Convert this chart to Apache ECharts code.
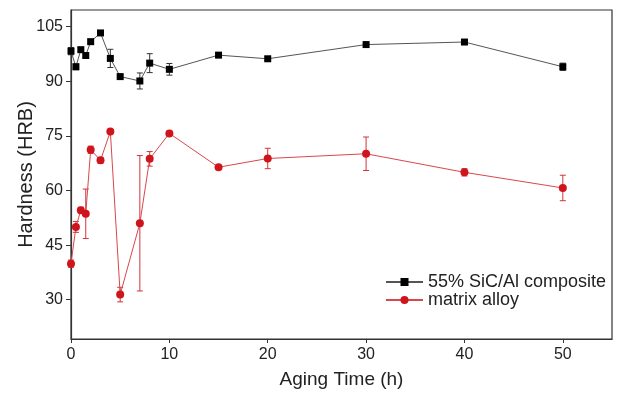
<!DOCTYPE html>
<html>
<head>
<meta charset="utf-8">
<script src="https://cdn.jsdelivr.net/npm/echarts@6/dist/echarts.min.js"></script>
<style>html,body{margin:0;padding:0;background:#fff}#c{width:620px;height:394px}</style>
</head>
<body>
<div id="c"></div>
<script>
// Aging time (h)
const agingTime = [0, 0.5, 1, 1.5, 2, 3, 4, 5, 7, 8, 10, 15, 20, 30, 40, 50];
// 55% SiC/Al composite hardness and error
const compositeHardness = [98.3, 94.0, 98.7, 97.1, 100.9, 103.3, 96.3, 91.3, 90.1, 95.0, 93.3, 97.2, 96.2, 100.1, 100.8, 94.0];
const compositeError    = [1.0, 0.8, 0.6, 0.6, 0.6, 0.6, 2.5, 0.6, 2.2, 2.6, 1.6, 0.5, 0.5, 0.6, 0.6, 1.0];
// matrix alloy hardness and error
const matrixHardness = [39.9, 50.0, 54.6, 53.6, 71.2, 68.3, 76.2, 31.4, 51.0, 68.7, 75.7, 66.4, 68.8, 70.1, 65.0, 60.7];
const matrixError    = [1.0, 1.5, 0.8, 6.8, 1.0, 0.8, 0.5, 2.0, 18.6, 2.0, 0.6, 0.5, 2.8, 4.6, 1.0, 3.5];
// tick labels
const xTicks = [0, 10, 20, 30, 40, 50];
const yTicks = [30, 45, 60, 75, 90, 105];

const seriesNames = ['55% SiC/Al composite', 'matrix alloy'];
const FONT = 'Liberation Sans, Arial, sans-serif';

function pts(ys) { return agingTime.map((x, i) => [x, ys[i]]); }
function errPts(ys, es) { return agingTime.map((x, i) => [x, ys[i], es[i]]); }

function errorBar(color) {
  return function (params, api) {
    const x = api.value(0), y = api.value(1), e = api.value(2);
    const hi = api.coord([x, y + e]);
    const lo = api.coord([x, y - e]);
    const w = 3;
    const st = { stroke: color, lineWidth: 1 };
    return {
      type: 'group',
      children: [
        { type: 'line', shape: { x1: hi[0], y1: hi[1], x2: lo[0], y2: lo[1] }, style: st },
        { type: 'line', shape: { x1: hi[0] - w, y1: hi[1], x2: hi[0] + w, y2: hi[1] }, style: st },
        { type: 'line', shape: { x1: lo[0] - w, y1: lo[1], x2: lo[0] + w, y2: lo[1] }, style: st }
      ]
    };
  };
}

const chart = echarts.init(document.getElementById('c'), null, { renderer: 'canvas' });
chart.setOption({
  animation: false,
  backgroundColor: '#fff',
  textStyle: { fontFamily: FONT },
  grid: { left: 71, right: 8, top: 10, bottom: 51, show: true, borderColor: '#333', borderWidth: 1.2 },
  legend: {
    data: seriesNames,
    orient: 'vertical',
    left: 385,
    top: 273,
    padding: 0,
    itemWidth: 37,
    itemHeight: 10,
    itemGap: 0,
    textStyle: { fontFamily: FONT, fontSize: 18, color: '#222' }
  },
  xAxis: {
    type: 'value',
    min: 0, max: 55,
    name: 'Aging Time (h)',
    nameLocation: 'middle',
    nameGap: 31,
    nameMoveOverlap: false,
    nameTextStyle: { fontFamily: FONT, fontSize: 19, color: '#222' },
    axisLine: { lineStyle: { color: '#333', width: 1.2 } },
    axisTick: { customValues: xTicks, length: 4, lineStyle: { color: '#333' } },
    axisLabel: { customValues: xTicks, fontFamily: FONT, fontSize: 16, color: '#222', margin: 8 },
    splitLine: { show: false }
  },
  yAxis: {
    type: 'value',
    min: 19.2, max: 109.6,
    name: 'Hardness (HRB)',
    nameLocation: 'middle',
    nameGap: 35,
    nameMoveOverlap: false,
    nameTextStyle: { fontFamily: FONT, fontSize: 20, color: '#222' },
    axisLine: { show: true, lineStyle: { color: '#333', width: 1.2 } },
    axisTick: { show: true, customValues: yTicks, length: 5, lineStyle: { color: '#333' } },
    axisLabel: { customValues: yTicks, fontFamily: FONT, fontSize: 16, color: '#222', margin: 8 },
    splitLine: { show: false }
  },
  series: [
    {
      type: 'custom', name: 'composite error', renderItem: errorBar('#333'),
      data: errPts(compositeHardness, compositeError), z: 1, silent: true
    },
    {
      type: 'custom', name: 'matrix error', renderItem: errorBar('#d0343a'),
      data: errPts(matrixHardness, matrixError), z: 1, silent: true
    },
    {
      type: 'line', name: seriesNames[0], data: pts(compositeHardness),
      symbol: 'rect', symbolSize: 7,
      lineStyle: { color: '#555', width: 1 },
      itemStyle: { color: '#000' },
      z: 3
    },
    {
      type: 'line', name: seriesNames[1], data: pts(matrixHardness),
      symbol: 'circle', symbolSize: 8,
      lineStyle: { color: '#d9474c', width: 1 },
      itemStyle: { color: '#d0141b' },
      z: 3
    }
  ]
});
</script>
</body>
</html>
